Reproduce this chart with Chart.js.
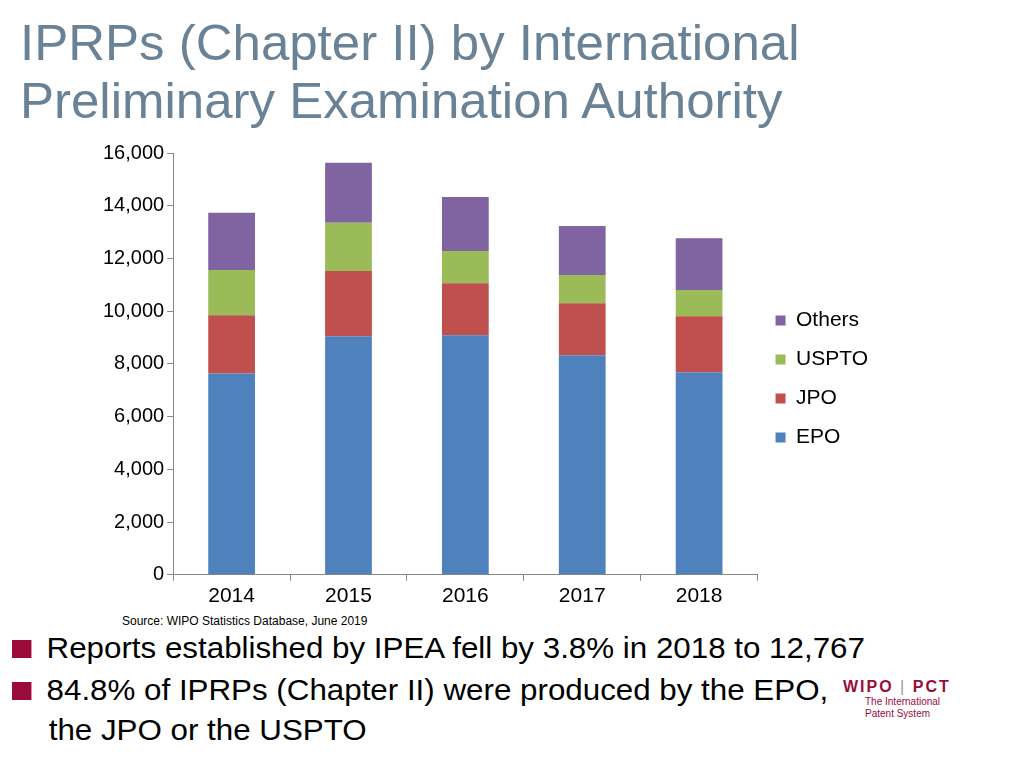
<!DOCTYPE html>
<html><head><meta charset="utf-8">
<script src="https://cdn.jsdelivr.net/npm/chart.js@4"></script>
<style>
body{margin:0;width:1024px;height:768px;background:#fff;font-family:"Liberation Sans",Arial,sans-serif;position:relative;overflow:hidden}
#t{position:absolute;left:20px;top:14px;font-size:50px;line-height:58px;color:#6a8295;transform:scaleX(1.02);transform-origin:left}
#c{position:absolute;left:100px;top:138px;width:828px;height:474px}
#src{position:absolute;left:122px;top:614px;font-size:12px;color:#000}
.b{position:absolute;left:12px;font-size:29px;color:#000;line-height:40px;transform:scaleX(1.08);transform-origin:left}
.b i{display:inline-block;width:18px;height:18px;background:#9b0b3a;margin-right:14px;vertical-align:0px}
#logo{position:absolute;left:843px;top:678px;color:#9b0b3a}
</style></head><body>
<div id="t">IPRPs (Chapter II) by International<br>Preliminary Examination Authority</div>
<div id="c"><canvas id="cv"></canvas></div>
<div id="src">Source: WIPO Statistics Database, June 2019</div>
<div class="b" style="top:628px"><i></i>Reports established by IPEA fell by 3.8% in 2018 to 12,767</div>
<div class="b" style="top:670px"><i></i>84.8% of IPRPs (Chapter II) were produced by the EPO,<br><span style="margin-left:34px">the JPO or the USPTO</span></div>
<div id="logo"><div style="font-size:16px;font-weight:bold;letter-spacing:2px">WIPO<span style="color:#999;font-weight:normal"> | </span>PCT</div><div style="font-size:10px;margin-left:22px;line-height:12px">The International<br>Patent System</div></div>
<script>
const categories=["2014","2015","2016","2017","2018"];
const epo=[7640,9050,9090,8330,7680];
const jpo=[2210,2470,1970,1970,2130];
const uspto=[1710,1830,1220,1070,990];
const others=[2170,2280,2050,1860,1967];
const ticks=[0,2000,4000,6000,8000,10000,12000,14000,16000];
new Chart(document.getElementById('cv'),{type:'bar',
data:{labels:categories,datasets:[
{label:'EPO',data:epo,backgroundColor:'#4f81bd'},
{label:'JPO',data:jpo,backgroundColor:'#c0504d'},
{label:'USPTO',data:uspto,backgroundColor:'#9bbb59'},
{label:'Others',data:others,backgroundColor:'#8064a2'}]},
options:{responsive:true,maintainAspectRatio:false,animation:false,
layout:{padding:{top:8,right:50,bottom:0}},
datasets:{bar:{categoryPercentage:1,barPercentage:0.4}},
plugins:{legend:{position:'right',reverse:true,align:'center',labels:{boxWidth:10,boxHeight:10,font:{size:21,family:'Liberation Sans'},color:'#000',padding:18}},tooltip:{enabled:false}},
scales:{x:{stacked:true,grid:{display:true,drawOnChartArea:false,tickLength:6,color:'#888'},border:{color:'#888'},ticks:{color:'#000',font:{size:21,family:'Liberation Sans'}}},
y:{stacked:true,min:0,max:16000,afterBuildTicks:a=>{a.ticks=ticks.map(v=>({value:v}))},grid:{display:true,drawOnChartArea:false,tickLength:6,color:'#888'},border:{color:'#888'},ticks:{color:'#000',font:{size:20,family:'Liberation Sans'},callback:v=>v.toLocaleString('en-US')}}}}});
</script></body></html>
